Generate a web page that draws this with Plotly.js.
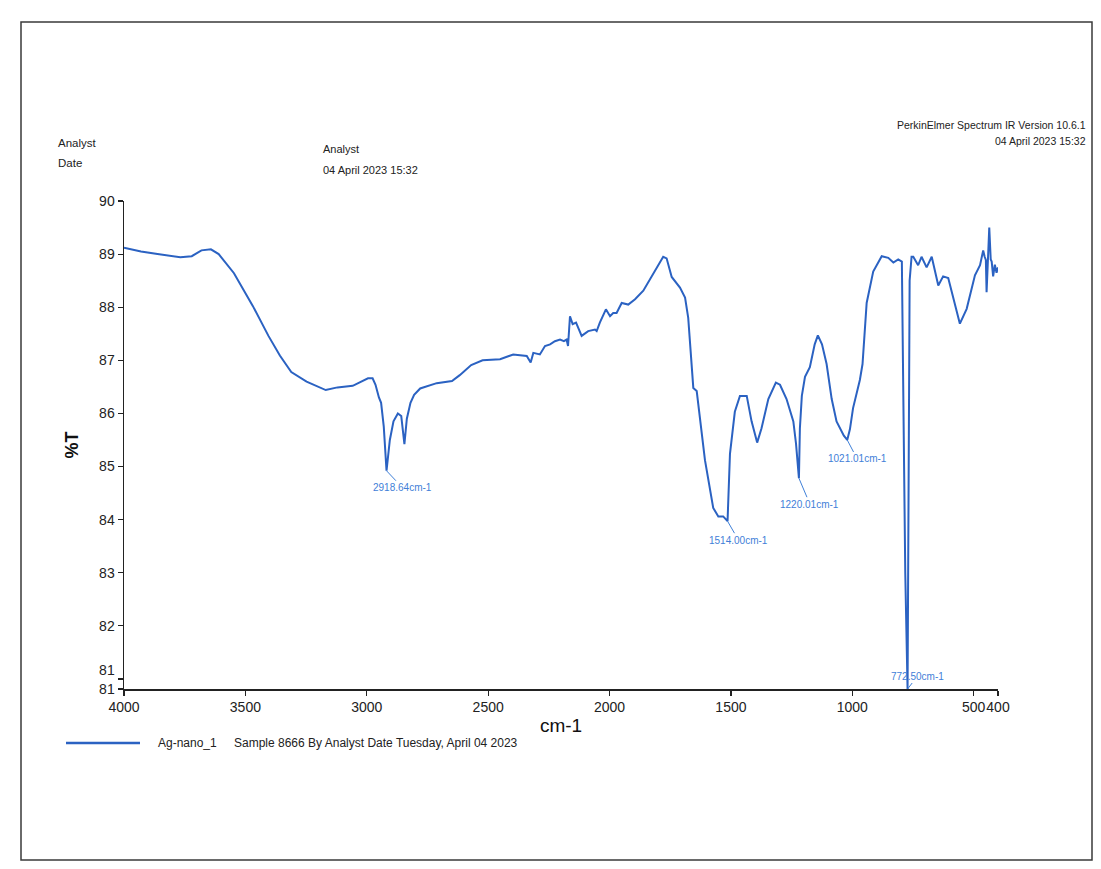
<!DOCTYPE html>
<html>
<head>
<meta charset="utf-8">
<script src="https://cdn.plot.ly/plotly-3.0.1.min.js"></script>
<style>html,body{margin:0;padding:0;background:#fff;}#chart{width:1101px;height:869px;}</style>
</head>
<body>
<div id="chart"></div>
<script>
// ---- data ----
const seriesName = "Ag-nano_1";
const legendText = "Sample 8666 By Analyst Date Tuesday, April 04 2023";
const wavenumber = [
  4000, 3930, 3862, 3768, 3721, 3681, 3642, 3610, 3547, 3469,
  3405, 3358, 3311, 3248, 3169, 3121, 3058, 2995, 2976, 2964,
  2950, 2941, 2930, 2918.64, 2905, 2890, 2872, 2858, 2845, 2835,
  2820, 2805, 2780, 2740, 2712, 2649, 2617, 2570, 2523, 2451,
  2397, 2341, 2325, 2314, 2287, 2266, 2245, 2225, 2204, 2188,
  2177, 2171, 2163, 2152, 2138, 2115, 2088, 2060, 2053, 2040,
  2015, 1998, 1985, 1971, 1950, 1923, 1895, 1861, 1820, 1779,
  1765, 1744, 1710, 1689, 1676, 1662, 1655, 1641, 1607, 1573,
  1552, 1532, 1514, 1504, 1484, 1463, 1449, 1435, 1415, 1392,
  1374, 1346, 1315, 1298, 1271, 1243, 1232, 1220.01, 1216, 1208,
  1195, 1175, 1155, 1142, 1125, 1106, 1085, 1065, 1035, 1021.01,
  1010, 997, 969, 958, 941, 914, 879, 852, 831, 811,
  796, 790, 782, 772.5, 768, 764, 756, 749, 729, 715,
  694, 673, 646, 626, 605, 577, 557, 529, 495, 474,
  461, 455, 450, 447, 441, 436, 430, 426, 420, 413,
  406, 400
];
const transmittance = [
  89.12, 89.05, 89.00, 88.94, 88.96, 89.07, 89.09, 89.00, 88.64, 88.02,
  87.46, 87.09, 86.78, 86.60, 86.44, 86.49, 86.52, 86.66, 86.66, 86.54,
  86.30, 86.20, 85.75, 84.92, 85.50, 85.85, 86.00, 85.95, 85.42, 85.90,
  86.20, 86.35, 86.47, 86.53, 86.57, 86.61, 86.72, 86.91, 87.00, 87.02,
  87.11, 87.08, 86.96, 87.14, 87.11, 87.27, 87.30, 87.36, 87.39, 87.36,
  87.39, 87.27, 87.83, 87.68, 87.71, 87.46, 87.55, 87.58, 87.55, 87.71,
  87.96, 87.83, 87.89, 87.89, 88.08, 88.05, 88.15, 88.31, 88.63, 88.95,
  88.92, 88.57, 88.37, 88.18, 87.80, 86.80, 86.48, 86.42, 85.12, 84.22,
  84.06, 84.06, 83.97, 85.24, 86.03, 86.33, 86.33, 86.33, 85.85, 85.45,
  85.72, 86.27, 86.58, 86.54, 86.27, 85.85, 85.43, 84.78, 85.72, 86.33,
  86.69, 86.87, 87.30, 87.47, 87.30, 86.93, 86.27, 85.85, 85.58, 85.50,
  85.70, 86.10, 86.63, 86.93, 88.08, 88.67, 88.96, 88.93, 88.84, 88.90,
  88.86, 86.50, 83.00, 80.81, 84.00, 88.50, 88.95, 88.95, 88.79, 88.95,
  88.75, 88.95, 88.41, 88.58, 88.55, 88.06, 87.69, 87.97, 88.60, 88.79,
  89.07, 88.95, 88.89, 88.28, 89.12, 89.50, 88.90, 88.86, 88.58, 88.80,
  88.65, 88.75
];
const peakWavenumbers = [2918.64, 1514, 1220.01, 1021.01, 772.5];
const peakLabels = ["2918.64cm-1", "1514.00cm-1", "1220.01cm-1", "1021.01cm-1", "772.50cm-1"];
const peakLabelOffsets = [[16, 17], [11, 19], [11, 26], [10, 19], [10, -13]];
const xTickVals = [4000, 3500, 3000, 2500, 2000, 1500, 1000, 500, 400];
const xTickText = ["4000", "3500", "3000", "2500", "2000", "1500", "1000", "500", "400"];
const yMin = 80.81, yMax = 90;
const yTickVals = [90, 89, 88, 87, 86, 85, 84, 83, 82, 81, yMin];
const yTickText = ["90", "89", "88", "87", "86", "85", "84", "83", "82", "81<br> ", "81"];

// ---- layout helpers (pixel -> paper) ----
const W = 1101, H = 869;
const L = 124, R = 998, T = 201, B = 689;
const px = x => (x - L) / (R - L);
const py = y => (B - y) / (B - T);

const FONT = "Liberation Sans, Arial, sans-serif";
const lineColor = "#2b62c2";
const labelColor = "#3f80d8";

const trace = {
  x: wavenumber, y: transmittance, type: "scatter", mode: "lines",
  name: seriesName, showlegend: false,
  line: {color: lineColor, width: 2}
};

const annotations = [];
peakWavenumbers.forEach((w, i) => {
  const idx = wavenumber.indexOf(w);
  annotations.push({
    x: w, y: transmittance[idx], xref: "x", yref: "y",
    text: peakLabels[i], showarrow: true, arrowhead: 0, arrowwidth: 1,
    arrowcolor: labelColor, ax: peakLabelOffsets[i][0], ay: peakLabelOffsets[i][1],
    standoff: 0, font: {family: FONT, size: 10, color: labelColor}
  });
});
function txt(text, x, y, anchor, size) {
  return {
    text: text, xref: "paper", yref: "paper", x: px(x), y: py(y),
    xanchor: anchor, yanchor: "middle", showarrow: false,
    font: {family: FONT, size: size, color: "#222"}
  };
}
annotations.push(txt("Analyst", 56, 143, "left", 11.5));
annotations.push(txt("Date", 56, 163, "left", 11.5));
annotations.push(txt("Analyst", 321, 149, "left", 11));
annotations.push(txt("04 April 2023 15:32", 321, 170, "left", 11));
annotations.push(txt("PerkinElmer Spectrum IR Version 10.6.1", 1088, 125, "right", 10.5));
annotations.push(txt("04 April 2023 15:32", 1088, 141, "right", 10.5));
annotations.push(txt(seriesName, 156, 743, "left", 12));
annotations.push(txt(legendText, 232, 743, "left", 12));

const shapes = [
  {type: "line", xref: "paper", yref: "paper", x0: px(66), x1: px(140), y0: py(743), y1: py(743),
   line: {color: lineColor, width: 2.5}},
  {type: "rect", xref: "paper", yref: "paper", x0: px(21), x1: px(1092), y0: py(22), y1: py(860),
   line: {color: "#3a3a3a", width: 1.5}, fillcolor: "rgba(0,0,0,0)", layer: "below"}
];

const layout = {
  width: W, height: H,
  margin: {l: L, r: W - R, t: T, b: H - B, pad: 0},
  paper_bgcolor: "#ffffff", plot_bgcolor: "#ffffff",
  showlegend: false,
  font: {family: FONT, color: "#222"},
  xaxis: {
    range: [4000, 400], autorange: false,
    tickmode: "array", tickvals: xTickVals, ticktext: xTickText, tickangle: 0,
    ticks: "outside", ticklen: 5, tickwidth: 1.2, tickcolor: "#222",
    showline: true, linecolor: "#222", linewidth: 1.5, mirror: false,
    showgrid: false, zeroline: false,
    tickfont: {family: FONT, size: 14, color: "#222"},
    title: {text: "cm-1", font: {family: FONT, size: 19, color: "#111"}, standoff: 4}
  },
  yaxis: {
    range: [yMin, yMax], autorange: false,
    tickmode: "array", tickvals: yTickVals, ticktext: yTickText,
    ticks: "outside", ticklen: 5, tickwidth: 1.2, tickcolor: "#222",
    showline: true, linecolor: "#222", linewidth: 1.5, mirror: false,
    showgrid: false, zeroline: false,
    tickfont: {family: FONT, size: 14, color: "#222"},
    title: {text: "<b>%T</b>", font: {family: FONT, size: 18, color: "#111"}, standoff: 16}
  },
  annotations: annotations,
  shapes: shapes
};

Plotly.newPlot("chart", [trace], layout, {displayModeBar: false, staticPlot: true});
</script>
</body>
</html>
